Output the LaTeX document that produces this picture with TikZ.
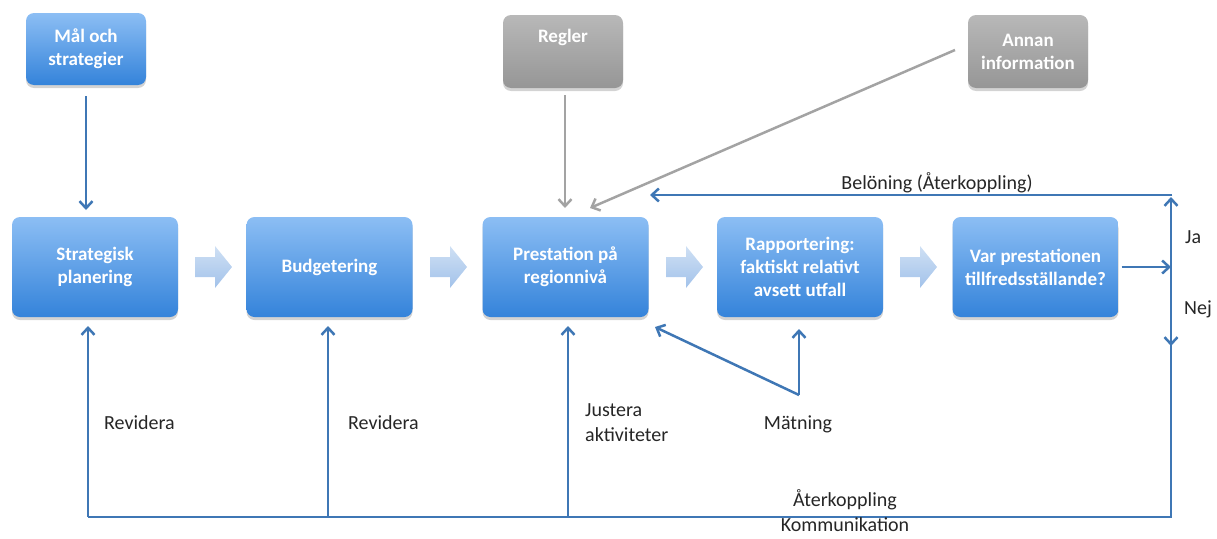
\documentclass[tikz,border=0pt]{standalone}
\usepackage{fontspec}
\setmainfont{Carlito}
\usetikzlibrary{arrows.meta,shadows,calc}
\definecolor{linkblue}{HTML}{3F77B5}
\definecolor{boxtop}{HTML}{8CBEF4}
\definecolor{boxbot}{HTML}{3483DA}
\definecolor{greytop}{HTML}{B8B8B8}
\definecolor{greybot}{HTML}{969696}
\definecolor{greyline}{HTML}{A3A3A3}
\definecolor{bartop}{HTML}{CFE0F4}
\definecolor{barbot}{HTML}{A2C2EA}
\tikzset{
  bluebox/.style={rounded corners=8pt, top color=boxtop, bottom color=boxbot,
    text=white, font=\fontsize{19}{23}\selectfont\bfseries, align=center,
    minimum width=166pt, minimum height=100pt, inner sep=2pt,
    drop shadow={shadow xshift=0pt, shadow yshift=-3pt, opacity=0.35}},
  smallbox/.style={bluebox, minimum width=120pt, minimum height=72pt},
  greybox/.style={smallbox, top color=greytop, bottom color=greybot},
  link/.style={draw=linkblue, line width=2.5pt,
    -{Straight Barb[length=7pt,width=13pt,line width=2.5pt]}},
  plain/.style={draw=linkblue, line width=2.5pt},
  greylink/.style={link, draw=greyline},
  lbl/.style={font=\fontsize{20}{25}\selectfont, text=black!85, inner sep=0pt, align=left},
  fatarrow/.style={top color=bartop, bottom color=barbot, draw=none}
}
\newcommand{\fatarrowat}[2]{%
  \path[fatarrow] (#1-17,#2-10) -- (#1+3,#2-10) -- (#1+3,#2-21) -- (#1+20,#2)
    -- (#1+3,#2+21) -- (#1+3,#2+10) -- (#1-17,#2+10) -- cycle;}
\begin{document}
\begin{tikzpicture}[x=1pt, y=-1pt]
\useasboundingbox (0,0) rectangle (1217,538);

% boxes
\node[smallbox] (mal) at (86,49) {Mål och\\strategier};
\node[greybox, minimum height=73pt] (regler) at (563,51.5) {};
\node[text=white, font=\fontsize{19}{23}\selectfont\bfseries] (reglertxt) at (563,37) {Regler};
\node[greybox, minimum height=73pt] (annan) at (1028,51.5) {Annan\\information};

\node[bluebox] (strat) at (95,267) {Strategisk\\planering};
\node[bluebox] (budg) at (329.5,267) {Budgetering};
\node[bluebox] (prest) at (565.5,267) {Prestation på\\regionnivå};
\node[bluebox] (rapp) at (800,267) {Rapportering:\\faktiskt relativt\\avsett utfall};
\node[bluebox] (var) at (1035.5,267) {Var prestationen\\tillfredsställande?};

% flow arrows between the main steps
\fatarrowat{212}{267}
\fatarrowat{447}{267}
\fatarrowat{683}{267}
\fatarrowat{917}{267}

% inputs from above
\draw[link] (86,96) -- (86,210);
\draw[greylink] (565,95) -- (565,208);
\coordinate (annanin) at (955,50);
\draw[greylink] (annanin) -- (590,208);

% decision and feedback loops
\coordinate (split) at (1171,267);
\coordinate (topright) at (1171,195);
\coordinate (botright) at (1171,517);
\coordinate (botleft) at (88,517);
\draw[link] ([xshift=3pt]var.east |- split) -- (split);
\draw[link] (split) -- ([yshift=-2pt]topright);
\draw[link] ([xshift=1.25pt]topright) -- (650,195);
\draw[plain] (split) -- (botright) -- (botleft);
\draw[link] (split) -- (1171,346);
\draw[link] (botleft) -- (88,326);
\draw[link] (328,517) -- (328,326);
\draw[link] (568,517) -- (568,326);

% measurement
\coordinate (meas) at (799,395);
\draw[link] (meas) -- (799,329);
\draw[link] (meas) -- (655,327);

% labels
\node[lbl, anchor=west] (rev1) at (104,423) {Revidera};
\node[lbl, anchor=west] (rev2) at (348,423) {Revidera};
\node[lbl, anchor=west] (just) at (585,423) {Justera\\aktiviteter};
\node[lbl] (matn) at (798,424) {Mätning};
\node[lbl] (bel) at (937,183) {Belöning (Återkoppling)};
\node[lbl, anchor=west] (ja) at (1185,237) {Ja};
\node[lbl, anchor=west] (nej) at (1184,309) {Nej};
\node[lbl, align=center] (aterk) at (845,511) {Återkoppling\\Kommunikation};
\end{tikzpicture}
\end{document}
